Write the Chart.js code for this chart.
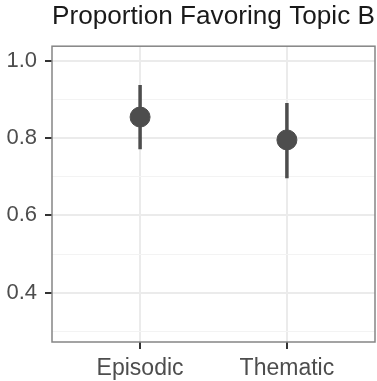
<!DOCTYPE html>
<html>
<head>
<meta charset="utf-8">
<script src="https://cdn.jsdelivr.net/npm/chart.js@4"></script>
<style>
  html, body { margin: 0; padding: 0; background: #fff; }
  #wrap { width: 377px; height: 381px; }
</style>
</head>
<body>
<div id="wrap"><canvas id="c"></canvas></div>
<script>
// data
const categories = ['Episodic', 'Thematic'];
const estimate = [0.854, 0.795];
const lower = [0.771, 0.696];
const upper = [0.937, 0.890];
const yTicks = [0.3, 0.4, 0.5, 0.6, 0.7, 0.8, 0.9, 1.0];
const yLabelled = [0.4, 0.6, 0.8, 1.0];

const isMajor = v => yLabelled.some(t => Math.abs(t - v) < 1e-6);

// one small line dataset per error bar
const errorSets = categories.map((c, i) => ({
  type: 'scatter',
  data: [{ x: i + 1, y: lower[i] }, { x: i + 1, y: upper[i] }],
  showLine: true,
  borderColor: '#4d4d4d',
  borderWidth: 3.5,
  pointRadius: 0,
  order: 2
}));

const panelBorder = {
  id: 'panelBorder',
  afterDraw(chart) {
    const { ctx, chartArea: a } = chart;
    ctx.save();
    ctx.strokeStyle = '#858585';
    ctx.lineWidth = 1.5;
    ctx.strokeRect(a.left, a.top, a.right - a.left, a.bottom - a.top);
    ctx.restore();
  }
};

new Chart(document.getElementById('c'), {
  type: 'scatter',
  data: {
    datasets: [
      {
        data: categories.map((c, i) => ({ x: i + 1, y: estimate[i] })),
        backgroundColor: '#4d4d4d',
        borderColor: '#4d4d4d',
        pointRadius: 10,
        pointHoverRadius: 10,
        order: 1
      },
      ...errorSets
    ]
  },
  options: {
    responsive: true,
    maintainAspectRatio: false,
    animation: false,
    layout: { autoPadding: false, padding: { top: 0, right: 2, bottom: 0, left: 0 } },
    plugins: {
      legend: { display: false },
      tooltip: { enabled: false },
      title: {
        display: true,
        text: 'Proportion Favoring Topic B',
        align: 'start',
        fullSize: false,
        color: '#1a1a1a',
        font: { family: 'Liberation Sans', size: 26.5, weight: 'normal' },
        padding: { top: 1, bottom: 13.4 }
      }
    },
    scales: {
      x: {
        type: 'linear',
        min: 0.4,
        max: 2.6,
        afterBuildTicks: s => { s.ticks = categories.map((c, i) => ({ value: i + 1 })); },
        afterFit: s => { s.height = 39; s.paddingLeft = 0; s.paddingRight = 0; },
        border: { display: false },
        grid: {
          color: '#ebebeb',
          lineWidth: 2,
          tickColor: '#333333',
          tickWidth: 2,
          tickLength: 7
        },
        ticks: {
          padding: 6,
          color: '#4d4d4d',
          font: { family: 'Liberation Sans', size: 23 },
          callback: v => categories[Math.round(v) - 1]
        }
      },
      y: {
        min: 0.273,
        max: 1.037,
        afterBuildTicks: s => { s.ticks = yTicks.map(v => ({ value: v })); },
        afterFit: s => { s.width = 52; s.paddingTop = 0; s.paddingBottom = 0; },
        border: { display: false },
        grid: {
          color: ctx => isMajor(ctx.tick.value) ? '#ebebeb' : '#f3f3f3',
          lineWidth: ctx => isMajor(ctx.tick.value) ? 2 : 1,
          tickColor: ctx => isMajor(ctx.tick.value) ? '#333333' : 'rgba(0,0,0,0)',
          tickWidth: 2,
          tickLength: 7
        },
        ticks: {
          padding: 8,
          color: '#4d4d4d',
          font: { family: 'Liberation Sans', size: 22 },
          callback: v => isMajor(v) ? v.toFixed(1) : ''
        }
      }
    }
  },
  plugins: [panelBorder]
});
</script>
</body>
</html>
